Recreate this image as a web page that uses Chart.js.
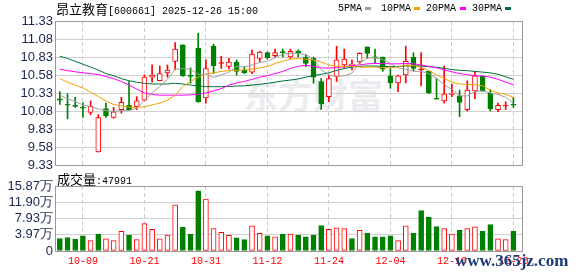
<!DOCTYPE html>
<html>
<head>
<meta charset="utf-8">
<script src="https://cdn.jsdelivr.net/npm/chart.js@4.4.0/dist/chart.umd.min.js"></script>
<style>
  body { margin: 0; background: #fff; }
  #wrap { position: relative; width: 578px; height: 276px; overflow: hidden; }
  canvas { position: absolute; left: 0; }
  .cjk { font-family: "Noto Sans CJK SC", sans-serif; font-size: 13px; }
  .mono { font-family: "Liberation Mono", monospace; font-size: 10px; }
  .txt { position: absolute; white-space: pre; line-height: 13px; color: #000; }
  .sw { position: absolute; width: 6px; height: 3px; top: 7px; }
  .wm { position: absolute; left: 243px; top: 75px; font-family: "Noto Sans CJK SC"; font-weight: 700;
        font-size: 35px; line-height: 38px; color: #ececf0; }
  .site { position: absolute; left: 455px; top: 251px; font-family: "Liberation Serif"; font-weight: 700;
          font-size: 17px; line-height: 20px; color: #1e3a78; }
</style>
</head>
<body>
<div id="wrap">
  <div class="wm">东方财富</div>
  <canvas id="kline" width="578" height="180" style="top:0"></canvas>
  <canvas id="vol" width="578" height="106" style="top:170px"></canvas>
  <div class="txt" style="left:56px;top:2px"><span class="cjk">昂立教育</span><span class="mono">[600661] 2025-12-26 15:00</span></div>
  <div id="legend"></div>
  <div class="txt" id="vlabel" style="left:57px;top:172px"></div>
  <div class="site">www.365jz.com</div>
</div>
<script>
// 日期刻度 (index into the 60 trading days)
const tickIdx = [3, 11, 19, 27, 35, 43, 51, 59];
const tickLabels = ['10-09', '10-21', '10-31', '11-12', '11-24', '12-04', '12-16', '12-26'];
const priceTicks = [9.33, 9.58, 9.83, 10.08, 10.33, 10.58, 10.83, 11.08, 11.33];
const volTicks = [0, 3.9675, 7.935, 11.9025, 15.87];
const volTickLabels = ['0', '3.97万', '7.93万', '11.90万', '15.87万'];

const opens = [10.25, 10.17, 10.155, 10.135, 10.06, 9.51, 10.115, 9.99, 10.10, 10.16,
  10.14, 10.23, 10.55, 10.50, 10.61, 10.77, 11.00, 10.57, 10.95, 10.26,
  10.98, 10.74, 10.70, 10.76, 10.65, 10.62, 10.81, 10.89, 10.85, 10.90,
  10.83, 10.91, 10.83, 10.81, 10.49, 10.28, 10.56, 10.72, 10.71, 10.76,
  10.97, 10.83, 10.83, 10.57, 10.47, 10.58, 10.83, 10.65, 10.63, 10.25,
  10.22, 10.31, 10.29, 10.10, 10.36, 10.56, 10.33, 10.10, 10.15, 10.17];
const highs = [10.35, 10.32, 10.27, 10.195, 10.22, 10.03, 10.19, 10.13, 10.27, 10.49,
  10.28, 10.58, 10.72, 10.705, 10.72, 11.03, 11.00, 10.68, 11.16, 10.79,
  11.01, 10.84, 10.81, 10.79, 10.695, 10.93, 10.91, 10.90, 10.94, 10.94,
  10.94, 10.93, 10.86, 10.83, 10.53, 10.58, 10.98, 10.94, 10.79, 10.89,
  10.97, 10.94, 10.83, 10.67, 10.58, 10.98, 10.89, 10.89, 10.63, 10.53,
  10.705, 10.455, 10.37, 10.50, 10.63, 10.57, 10.38, 10.19, 10.21, 10.27];
const lows = [10.17, 9.97, 10.13, 9.99, 10.03, 9.51, 9.99, 9.98, 10.05, 10.09,
  10.10, 10.22, 10.48, 10.50, 10.55, 10.65, 10.56, 10.465, 10.20, 10.19,
  10.60, 10.67, 10.66, 10.58, 10.60, 10.60, 10.765, 10.80, 10.82, 10.83,
  10.81, 10.83, 10.695, 10.465, 10.10, 10.21, 10.49, 10.68, 10.65, 10.74,
  10.81, 10.75, 10.63, 10.395, 10.35, 10.47, 10.64, 10.43, 10.32, 10.243,
  10.19, 10.28, 10.00, 10.08, 10.25, 10.35, 10.08, 10.07, 10.10, 10.13];
const closes = [10.23, 10.16, 10.145, 10.12, 10.145, 9.99, 10.015, 10.07, 10.20, 10.10,
  10.22, 10.55, 10.58, 10.60, 10.65, 10.94, 10.57, 10.56, 10.21, 10.67,
  10.71, 10.75, 10.76, 10.63, 10.61, 10.87, 10.90, 10.82, 10.89, 10.89,
  10.91, 10.89, 10.74, 10.55, 10.18, 10.53, 10.79, 10.80, 10.73, 10.88,
  10.88, 10.82, 10.66, 10.47, 10.57, 10.77, 10.67, 10.66, 10.33, 10.243,
  10.32, 10.33, 10.20, 10.37, 10.57, 10.36, 10.11, 10.16, 10.16, 10.16];

const ma5 = [10.30, 10.25, 10.21, 10.165, 10.14, 10.11, 10.085, 10.075, 10.085, 10.085,
  10.12, 10.23, 10.33, 10.42, 10.52, 10.66, 10.67, 10.66, 10.59, 10.59,
  10.545, 10.58, 10.62, 10.70, 10.69, 10.72, 10.755, 10.77, 10.82, 10.87,
  10.88, 10.88, 10.865, 10.80, 10.655, 10.58, 10.56, 10.57, 10.605, 10.745,
  10.815, 10.82, 10.795, 10.74, 10.68, 10.66, 10.63, 10.63, 10.60, 10.535,
  10.445, 10.38, 10.29, 10.29, 10.35, 10.36, 10.33, 10.31, 10.27, 10.19];
const ma10 = [10.53, 10.48, 10.44, 10.40, 10.34, 10.28, 10.22, 10.17, 10.15, 10.135,
  10.13, 10.14, 10.165, 10.19, 10.23, 10.30, 10.42, 10.49, 10.55, 10.59,
  10.61, 10.63, 10.64, 10.645, 10.65, 10.66, 10.68, 10.70, 10.74, 10.77,
  10.80, 10.81, 10.80, 10.79, 10.76, 10.72, 10.70, 10.70, 10.70, 10.69,
  10.69, 10.69, 10.68, 10.68, 10.69, 10.72, 10.71, 10.69, 10.64, 10.58,
  10.53, 10.48, 10.455, 10.45, 10.445, 10.43, 10.37, 10.33, 10.31, 10.27];
const ma20 = [10.66, 10.64, 10.625, 10.61, 10.60, 10.585, 10.56, 10.53, 10.49, 10.44,
  10.385, 10.33, 10.31, 10.30, 10.30, 10.30, 10.30, 10.305, 10.31, 10.33,
  10.36, 10.39, 10.44, 10.47, 10.49, 10.52, 10.55, 10.57, 10.60, 10.63,
  10.67, 10.70, 10.715, 10.70, 10.68, 10.675, 10.685, 10.695, 10.71, 10.72,
  10.735, 10.74, 10.74, 10.735, 10.735, 10.74, 10.735, 10.72, 10.70, 10.68,
  10.65, 10.625, 10.60, 10.585, 10.57, 10.565, 10.55, 10.52, 10.48, 10.445];
const ma30 = [10.84, 10.81, 10.77, 10.73, 10.69, 10.65, 10.60, 10.57, 10.53, 10.50,
  10.48, 10.465, 10.455, 10.455, 10.455, 10.465, 10.455, 10.44, 10.43, 10.418,
  10.418, 10.418, 10.42, 10.427, 10.43, 10.44, 10.45, 10.465, 10.48, 10.497,
  10.51, 10.525, 10.55, 10.57, 10.59, 10.61, 10.645, 10.67, 10.69, 10.70,
  10.705, 10.705, 10.70, 10.695, 10.70, 10.705, 10.71, 10.705, 10.695, 10.687,
  10.673, 10.655, 10.645, 10.64, 10.63, 10.62, 10.61, 10.59, 10.555, 10.52];

// 成交量, 万
const volume = [3.06, 3.29, 2.83, 3.68, 2.53, 4.14, 2.99, 2.53, 4.83, 3.91,
  2.76, 6.67, 5.29, 2.99, 3.91, 11.27, 5.75, 4.14, 14.72, 12.65,
  5.45, 4.53, 3.84, 3.22, 2.76, 6.14, 4.30, 3.68, 3.45, 4.14,
  4.14, 3.91, 3.45, 3.91, 6.21, 5.29, 5.68, 5.45, 3.06, 5.06,
  4.37, 3.45, 3.45, 3.68, 2.53, 6.14, 4.37, 9.89, 8.28, 5.98,
  5.45, 4.14, 5.06, 5.45, 5.91, 4.83, 6.44, 2.99, 2.76, 4.7991];
const volUp = [0, 0, 0, 0, 1, 0, 1, 1, 1, 0,
  1, 1, 1, 1, 1, 1, 0, 0, 0, 1,
  1, 1, 1, 0, 0, 1, 1, 0, 1, 0,
  1, 0, 0, 0, 0, 1, 1, 1, 0, 1,
  0, 0, 0, 0, 1, 1, 0, 0, 0, 0,
  1, 1, 0, 1, 1, 0, 0, 1, 1, 0];

const maNames = ['5PMA', '10PMA', '20PMA', '30PMA'];
const maColors = ['#a0a0a0', '#f5a000', '#ff00ff', '#00703a'];

const RED = '#ff0000';
const GREEN = '#008000';
const idx = opens.map((_, i) => i);
const up = idx.map(i => closes[i] >= opens[i]);
const candleColor = up.map(u => u ? RED : GREEN);
const bodyFill = idx.map(i => (up[i] && Math.abs(closes[i] - opens[i]) > 0.015) ? '#ffffff' : candleColor[i]);

// frame round the plot area
const framePlugin = {
  id: 'frame',
  afterDraw(chart) {
    const { ctx, chartArea: a } = chart;
    ctx.save();
    ctx.strokeStyle = '#999999';
    ctx.lineWidth = 1;
    ctx.strokeRect(a.left - 0.5, a.top + 0.5, a.right - a.left, a.bottom - a.top);
    ctx.restore();
  }
};

const xAxis = (showLabels) => ({
  type: 'linear',
  min: -0.5,
  max: 60.25,
  offset: false,
  afterBuildTicks: (ax) => { ax.ticks = tickIdx.map(v => ({ value: v })); },
  ticks: {
    display: showLabels,
    autoSkip: false,
    maxRotation: 0,
    padding: 4,
    color: RED,
    font: { family: 'Liberation Mono', size: 10 },
    callback: (v, i) => tickLabels[i]
  },
  grid: { offset: false, color: '#cccccc', drawTicks: false },
  border: { display: false, dash: [4, 3] }
});

const yFont = { family: 'Liberation Sans', size: 13 };

const maLine = (k, data) => ({
  type: 'line',
  label: maNames[k],
  data: data.map((v, i) => ({ x: i, y: v })),
  borderColor: maColors[k],
  borderWidth: 1,
  pointRadius: 0,
  tension: 0,
  order: 0
});

new Chart(document.getElementById('kline'), {
  type: 'bar',
  data: {
    datasets: [
      maLine(0, ma5), maLine(1, ma10), maLine(2, ma20), maLine(3, ma30),
      {
        label: 'body',
        data: idx.map(i => ({ x: i, y: [opens[i], closes[i]] })),
        backgroundColor: bodyFill,
        borderColor: candleColor,
        borderWidth: 1,
        borderSkipped: false,
        barThickness: 5,
        minBarLength: 1,
        grouped: false,
        order: 1
      },
      {
        label: 'wick',
        data: idx.map(i => ({ x: i, y: [lows[i], highs[i]] })),
        backgroundColor: candleColor,
        borderWidth: 0,
        barThickness: 1,
        grouped: false,
        order: 2
      }
    ]
  },
  options: {
    responsive: false,
    animation: false,
    devicePixelRatio: 1,
    layout: { padding: { top: 21, right: 55, bottom: 15, left: 0 } },
    plugins: { legend: { display: false }, tooltip: { enabled: false } },
    scales: {
      x: xAxis(false),
      y: {
        min: 9.33,
        max: 11.33,
        afterBuildTicks: (ax) => { ax.ticks = priceTicks.map(v => ({ value: v })); },
        afterFit: (ax) => { ax.width = 56; },
        ticks: { color: '#1a2550', font: yFont, padding: 3, autoSkip: false, callback: v => v.toFixed(2) },
        grid: { color: '#d0d0d0', drawTicks: false },
        border: { display: false }
      }
    }
  },
  plugins: [framePlugin]
});

new Chart(document.getElementById('vol'), {
  type: 'bar',
  data: {
    datasets: [{
      label: '成交量',
      data: idx.map(i => ({ x: i, y: volume[i] })),
      backgroundColor: volUp.map(u => u ? '#ffffff' : GREEN),
      borderColor: volUp.map(u => u ? RED : GREEN),
      borderWidth: 1,
      borderSkipped: false,
      barThickness: 5,
      grouped: false
    }]
  },
  options: {
    responsive: false,
    animation: false,
    devicePixelRatio: 1,
    layout: { padding: { top: 16, right: 55, bottom: 5, left: 0 } },
    plugins: { legend: { display: false }, tooltip: { enabled: false } },
    scales: {
      x: xAxis(true),
      y: {
        min: 0,
        max: 15.87,
        afterBuildTicks: (ax) => { ax.ticks = volTicks.map(v => ({ value: v })); },
        afterFit: (ax) => { ax.width = 56; },
        ticks: { color: '#1a2550', font: yFont, padding: 3, autoSkip: false, callback: (v, i) => volTickLabels[i] },
        grid: { color: '#d0d0d0', drawTicks: false },
        border: { display: false }
      }
    }
  },
  plugins: [framePlugin]
});

// legend: name then colour chip
const legendPos = [338, 381, 426, 472];
const chipPos = [365, 414, 460, 505];
const legend = document.getElementById('legend');
maNames.forEach((name, k) => {
  const t = document.createElement('div');
  t.className = 'txt mono';
  t.style.left = legendPos[k] + 'px';
  t.style.top = '2px';
  t.textContent = name;
  legend.appendChild(t);
  const c = document.createElement('div');
  c.className = 'sw';
  c.style.left = chipPos[k] + 'px';
  c.style.background = maColors[k];
  legend.appendChild(c);
});

document.getElementById('vlabel').innerHTML =
  '<span class="cjk">成交量</span><span class="mono">:' + Math.round(volume[volume.length - 1] * 10000) + '</span>';
</script>
</body>
</html>
